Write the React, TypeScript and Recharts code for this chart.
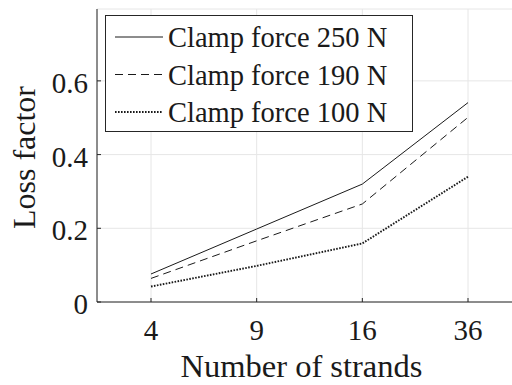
import { LineChart, Line, XAxis, YAxis, CartesianGrid } from "recharts";

const strands = ["4", "9", "16", "36"];
const force250 = [0.076, 0.198, 0.32, 0.541];
const force190 = [0.064, 0.166, 0.266, 0.501];
const force100 = [0.042, 0.098, 0.159, 0.34];
const yTicks = [0, 0.2, 0.4, 0.6];

const FONT = "'Liberation Serif', 'Times New Roman', serif";
const AXIS = "#262626";
const INK = "#1a1a1a";

const series = [
  { key: "f250", name: "Clamp force 250 N", dash: undefined, width: 1 },
  { key: "f190", name: "Clamp force 190 N", dash: "8 5", width: 1 },
  { key: "f100", name: "Clamp force 100 N", dash: "1.6 1.4", width: 1.9 },
];

const data = strands.map((s, i) => ({
  n: s,
  f250: force250[i],
  f190: force190[i],
  f100: force100[i],
}));

// inward ticks in the MATLAB style, label drawn below
const BottomTick = (props: any) => {
  const { x, y, payload } = props;
  return (
    <g>
      <line x1={x} y1={y} x2={x} y2={y - 4} stroke={AXIS} />
      <text x={x} y={y + 38} textAnchor="middle" fontSize={29} fontFamily={FONT} fill={INK}>
        {payload.value}
      </text>
    </g>
  );
};

const TopTick = (props: any) => {
  const { x, y } = props;
  return <line x1={x} y1={y} x2={x} y2={y + 4} stroke={AXIS} />;
};

const LeftTick = (props: any) => {
  const { x, y, payload } = props;
  return (
    <g>
      <line x1={x} y1={y} x2={x + 4} y2={y} stroke={AXIS} />
      <text x={x - 9} y={y + 12} textAnchor="end" fontSize={29} fontFamily={FONT} fill={INK}>
        {payload.value === 0 ? "0" : payload.value.toFixed(1)}
      </text>
    </g>
  );
};

const XLabel = (props: any) => {
  const { viewBox } = props;
  return (
    <text
      x={viewBox.x + viewBox.width / 2 - 8}
      y={viewBox.y + 75}
      textAnchor="middle"
      fontSize={32.5}
      fontFamily={FONT}
      fill={INK}
    >
      Number of strands
    </text>
  );
};

const YLabel = (props: any) => {
  const { viewBox } = props;
  const cx = viewBox.x + 24;
  const cy = viewBox.y + viewBox.height / 2 + 2;
  return (
    <text
      x={cx}
      y={cy}
      transform={`rotate(-90 ${cx} ${cy})`}
      textAnchor="middle"
      dominantBaseline="central"
      fontSize={32}
      fontFamily={FONT}
      fill={INK}
    >
      Loss factor
    </text>
  );
};

const LegendBox = () => (
  <svg
    width={310}
    height={118}
    style={{ position: "absolute", left: 105, top: 15, display: "block" }}
  >
    <rect x={0.5} y={0.5} width={307} height={116} fill="#fff" stroke={AXIS} />
    {series.map((s, i) => {
      const cy = 22 + i * 37.5;
      return (
        <g key={s.key}>
          <line
            x1={10}
            x2={58}
            y1={cy}
            y2={cy}
            stroke={INK}
            strokeWidth={s.width}
            strokeDasharray={s.dash}
          />
          <text x={63} y={cy + 10} fontSize={28.5} fontFamily={FONT} fill={INK}>
            {s.name}
          </text>
        </g>
      );
    })}
  </svg>
);

export default function App() {
  return (
    <div
      style={{
        position: "absolute",
        left: 0,
        top: 0,
        width: 512,
        height: 385,
        overflow: "hidden",
        background: "#fff",
      }}
    >
      <LineChart width={540} height={385} data={data} margin={{ top: 9, right: 18, bottom: 0, left: 0 }}>
        <CartesianGrid stroke="#e6e6e6" />
        <XAxis
          dataKey="n"
          type="category"
          padding={{ left: 54, right: 54 }}
          height={83}
          tickSize={0}
          tickMargin={0}
          axisLine={{ stroke: AXIS }}
          tickLine={false}
          tick={<BottomTick />}
          interval={0}
          label={<XLabel />}
        />
        <XAxis
          xAxisId="top"
          dataKey="n"
          orientation="top"
          padding={{ left: 54, right: 54 }}
          height={0}
          tickSize={0}
          tickMargin={0}
          axisLine={{ stroke: AXIS }}
          tickLine={false}
          tick={<TopTick />}
          interval={0}
        />
        <YAxis
          domain={[0, 0.795]}
          ticks={yTicks}
          width={97}
          tickSize={0}
          tickMargin={0}
          axisLine={{ stroke: AXIS }}
          tickLine={false}
          tick={<LeftTick />}
          allowDataOverflow
          label={<YLabel />}
        />
        {series.map((s) => (
          <Line
            key={s.key}
            dataKey={s.key}
            name={s.name}
            type="linear"
            stroke={INK}
            strokeWidth={s.width}
            strokeDasharray={s.dash}
            dot={false}
            activeDot={false}
            isAnimationActive={false}
          />
        ))}
      </LineChart>
      <LegendBox />
    </div>
  );
}
